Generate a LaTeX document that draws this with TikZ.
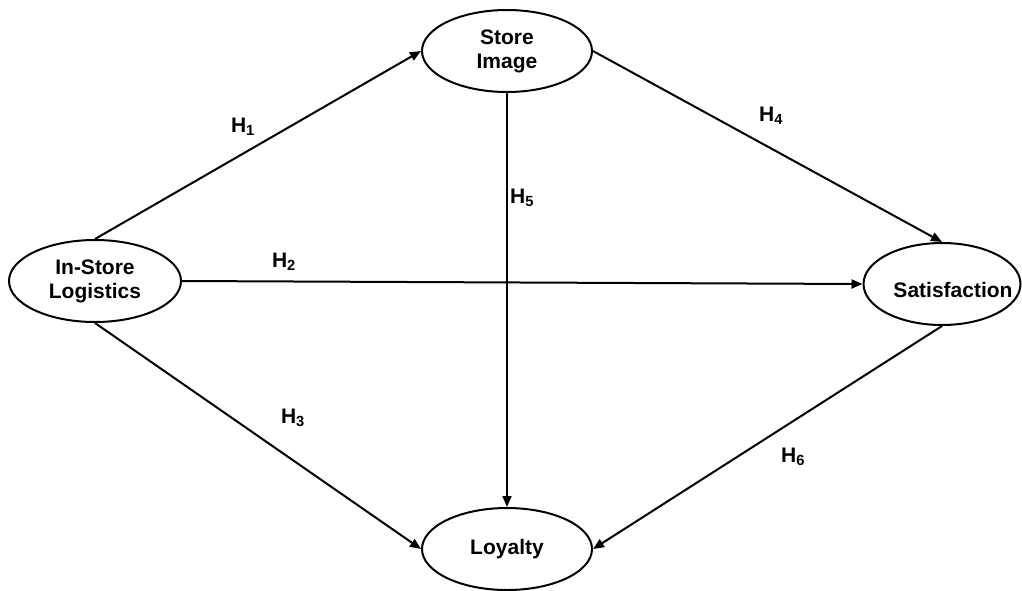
\documentclass[tikz,border=0pt]{standalone}
\usepackage{fontspec}
\setmainfont{Liberation Sans}
\usetikzlibrary{arrows.meta,shapes.geometric}
\tikzset{
  construct/.style={draw, ellipse, line width=2pt, align=center,
    font=\fontsize{21}{24}\selectfont\bfseries, inner sep=0pt},
  path/.style={line width=2pt, -{Triangle[length=11pt,width=9pt]}},
  hyp/.style={font=\fontsize{21}{24}\selectfont\bfseries, inner sep=0pt},
}
\newcommand{\hlab}[1]{H\textsubscript{#1}}
\begin{document}
\begin{tikzpicture}[x=1pt,y=-1pt]
\useasboundingbox (0,0) rectangle (1022,590);
\node[construct, minimum width=170pt, minimum height=82pt] (img) at (507,51) {Store\\Image};
\node[construct, minimum width=172pt, minimum height=82pt] (log) at (95,281) {In-Store\\Logistics};
% the text sits right of centre, close to the outline
\node[construct, minimum width=157pt, minimum height=82pt,
  label={[font=\fontsize{21}{24}\selectfont\bfseries, inner sep=0pt, xshift=11pt, yshift=-6pt]center:Satisfaction}]
  (sat) at (942,284) {};
\node[construct, minimum width=170pt, minimum height=82pt] (loy) at (507,549) {Loyalty};

\draw[path] (log.north) -- (img.west);
\draw[path] (log.east) -- (sat.west);
\draw[path] (log.south) -- (loy.west);
\draw[path] (img.east) -- (sat.north);
\draw[path] (img.south) -- (loy.north);
\draw[path] (sat.south) -- (loy.east);

\node[hyp] (h1) at (243,127) {\hlab{1}};
\node[hyp] (h2) at (284,262) {\hlab{2}};
\node[hyp] (h3) at (293,418) {\hlab{3}};
\node[hyp] (h4) at (771,116) {\hlab{4}};
\node[hyp] (h5) at (522,198) {\hlab{5}};
\node[hyp] (h6) at (793,457) {\hlab{6}};
\end{tikzpicture}
\end{document}
